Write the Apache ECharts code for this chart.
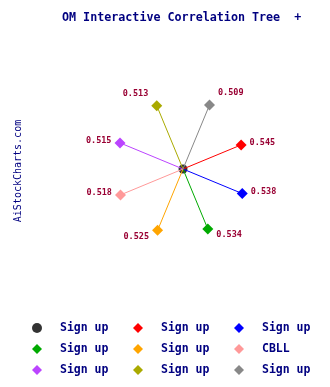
<!DOCTYPE html>
<html><head><meta charset="utf-8">
<script src="https://cdn.jsdelivr.net/npm/echarts@6/dist/echarts.min.js"></script>
<style>html,body{margin:0;padding:0;background:#fff}#c{width:330px;height:387px}</style>
</head><body><div id="c"></div>
<script>
// Data
const centerName = 'Sign up';
const centerColor = '#000000';
const names = ['Sign up', 'Sign up', 'Sign up', 'Sign up', 'CBLL', 'Sign up', 'Sign up', 'Sign up'];
const correlations = [0.545, 0.538, 0.534, 0.525, 0.518, 0.515, 0.513, 0.509];
const colors = ['#ff0000', '#0000ff', '#00aa00', '#ffa500', '#ff9999', '#bb44ff', '#aaaa00', '#888888'];
// legend order (row-wise), indices: -1 = center
const legendOrder = [-1, 0, 1, 2, 3, 4, 5, 6, 7];

const RMAX = 0.9, RMIN = 0.2;
const font = '"DejaVu Sans Mono", monospace';
const series = [];
series.push({
  name: 'k0', type: 'scatter', coordinateSystem: 'polar',
  data: [[RMAX, 0]], symbol: 'circle', symbolSize: 9,
  itemStyle: { color: centerColor }, z: 1, silent: true
});
correlations.forEach((v, i) => {
  const ang = (337.5 + 45 * i) % 360;
  const rad = ang * Math.PI / 180;
  const c = Math.cos(rad), s = Math.sin(rad);
  const dy = s > 0.5 ? 6 : (s < -0.5 ? -12 : -2);
  series.push({
    name: 'k' + (i + 1), type: 'line', coordinateSystem: 'polar',
    z: 2,
    data: [
      { value: [RMAX, ang], symbol: 'none', label: { show: false } },
      { value: [v, ang], symbol: 'diamond', symbolSize: 11,
        label: { show: true, position: c > 0 ? 'right' : 'left', distance: 3, offset: [0, dy],
          formatter: v.toFixed(3), color: '#990033', fontFamily: font, fontSize: 8.5, fontWeight: 'bold' } }
    ],
    showSymbol: true,
    lineStyle: { color: colors[i], width: 1 },
    itemStyle: { color: colors[i] },
    animation: false
  });
});

const colX = [32, 133, 234];
const rowY = [322, 343, 364];
const legends = legendOrder.map((idx, k) => {
  const label = idx < 0 ? centerName : names[idx];
  return {
    left: colX[k % 3], top: rowY[Math.floor(k / 3)], padding: 0,
    itemWidth: 10, itemHeight: 10, selectedMode: false,
    data: [{ name: 'k' + (idx + 1), icon: idx < 0 ? 'circle' : 'diamond' }],
    formatter: () => label,
    textStyle: { color: '#000080', fontFamily: font, fontSize: 11.5, fontWeight: 'bold', padding: [0, 0, 0, 13] }
  };
});

const chart = echarts.init(document.getElementById('c'));
chart.setOption({
  animation: false,
  backgroundColor: '#ffffff',
  title: { text: 'OM Interactive Correlation Tree  +', left: 62, top: 12, padding: 0,
    textStyle: { color: '#000080', fontFamily: font, fontSize: 11.7, fontWeight: 'bold' } },
  polar: { center: [183, 169], radius: 124 },
  angleAxis: { type: 'value', min: 0, max: 360, startAngle: 0, clockwise: true, show: false },
  radiusAxis: { type: 'value', min: RMIN, max: RMAX, inverse: true, show: false },
  legend: legends,
  series: series,
  graphic: [{ type: 'text', x: 18, y: 171, rotation: Math.PI / 2,
    style: { text: 'AiStockCharts.com', fill: '#000080', font: '10px ' + font, align: 'center', verticalAlign: 'middle' } }]
});
</script></body></html>
